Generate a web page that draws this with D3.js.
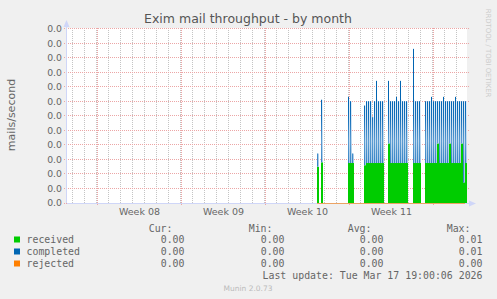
<!DOCTYPE html>
<html>
<head>
  <meta charset='utf-8'>
  <title>Exim mail throughput - by month</title>
  <script src="https://cdn.jsdelivr.net/npm/d3@7"></script>
  <style>
    html, body {
      margin: 0;
      padding: 0;
      background: #f0f0f0;
    }
    svg {
      display: block;
      font-family: "DejaVu Sans", sans-serif;
    }
    .mono {
      font-family: "DejaVu Sans Mono", monospace;
    }
  </style>
</head>
<body>
<svg id="chart" width="497" height="299"></svg>
<script>
// hours since the left edge of the month window, one sample every 4 hours
const hours = [
  500, 508,
  562, 566, 570,
  594, 598, 602, 606, 610, 614, 618, 622, 626, 630,
  642, 646, 650, 654, 658, 662, 666, 670, 674, 678,
  692, 696, 700, 704,
  716, 720, 724, 728, 732, 736, 740, 744, 748, 752, 756,
  760, 764, 768, 772, 776, 780, 784, 788, 792, 796
];
const received = [
  0.0025, 0.0028,
  0.00275, 0.00275, 0.00275,
  0.0026, 0.00275, 0.00275, 0.00275, 0.00275, 0.00275, 0.00275, 0.00275, 0.00275, 0.00275,
  0.0041, 0.00275, 0.00275, 0.00275, 0.00275, 0.00275, 0.00275, 0.00275, 0.00275, 0.00275,
  0.00275, 0.00275, 0.00275, 0.00275,
  0.00275, 0.00275, 0.00275, 0.00275, 0.00275, 0.00275, 0.0041, 0.00275, 0.00275, 0.00275, 0.00275,
  0.00275, 0.0041, 0.00275, 0.00275, 0.00275, 0.00275, 0.00275, 0.0041, 0.00275, 0.00275
];
const completed = [
  0.0034, 0.0071,
  0.0073, 0.0070, 0.0034,
  0.0067, 0.0070, 0.0070, 0.0070, 0.0059, 0.0070, 0.0084, 0.0070, 0.0070, 0.0070,
  0.0084, 0.0070, 0.0070, 0.0070, 0.0073, 0.0070, 0.0084, 0.0070, 0.0070, 0.0070,
  0.0106, 0.0070, 0.0070, 0.0070,
  0.0070, 0.0070, 0.0070, 0.0073, 0.0070, 0.0070, 0.0070, 0.0070, 0.0070, 0.0073, 0.0070,
  0.0070, 0.0070, 0.0070, 0.0070, 0.0073, 0.0070, 0.0070, 0.0070, 0.0070, 0.0070
];
const rejected = [
  0, 0,
  0, 0, 0,
  0, 0, 0, 0, 0, 0, 0, 0, 0, 0,
  0, 0, 0, 0, 0, 0, 0, 0, 0, 0,
  0, 0, 0, 0,
  0, 0, 0, 0, 0, 0, 0, 0, 0, 0, 0,
  0, 0, 0, 0, 0, 0, 0, 0, 0, 0
];
// one sample where completed drops below received
const dipHours = [792];
const dipValues = [0.0014];

const weekGrid = [60, 228, 396, 564, 732];
const weekLabelHours = [144, 312, 480, 648];
const weekLabels = ["Week 08", "Week 09", "Week 10", "Week 11"];

const legendNames = ["received", "completed", "rejected"];
const legendColors = ["#00cc00", "#0066b3", "#ff8000"];
const legendCur = [0, 0, 0];
const legendMin = [0, 0, 0];
const legendAvg = [0, 0, 0];
const legendMax = [0.01, 0.01, 0];

const svg = d3.select("#chart");

const x = d3.scaleLinear().domain([0, 800]).range([67, 467]);
const y = d3.scaleLinear().domain([0, 0.012]).range([203, 28.5]);
const yTicks = d3.range(0, 0.01205, 0.001);
const crisp = v => Math.round(v) + 0.5;
const lowOf = (d, i) => {
  const k = dipHours.indexOf(d);
  return k >= 0 ? dipValues[k] : received[i];
};

// canvas
svg.append("rect")
  .attr("x", 67).attr("y", 28)
  .attr("width", 400).attr("height", 175)
  .attr("fill", "#fff");

const defs = svg.append("defs");

// fade for the completed stripes, fixed to the plot so every stripe shares it
const grad = defs.append("linearGradient")
  .attr("id", "blueFade")
  .attr("gradientUnits", "userSpaceOnUse")
  .attr("x1", 0).attr("x2", 0)
  .attr("y1", y(0.0071)).attr("y2", y(0.0027));
grad.append("stop").attr("offset", "0%").attr("stop-color", "#0064b2");
grad.append("stop").attr("offset", "30%").attr("stop-color", "#1570ba");
grad.append("stop").attr("offset", "65%").attr("stop-color", "#5b9cd2");
grad.append("stop").attr("offset", "100%").attr("stop-color", "#3584c5");

// pale haze between the stripes
const haze = defs.append("linearGradient")
  .attr("id", "blueHaze")
  .attr("gradientUnits", "userSpaceOnUse")
  .attr("x1", 0).attr("x2", 0)
  .attr("y1", y(0.0071)).attr("y2", y(0.0027));
haze.append("stop").attr("offset", "0%").attr("stop-color", "#e3eef8");
haze.append("stop").attr("offset", "60%").attr("stop-color", "#c4dbef");
haze.append("stop").attr("offset", "100%").attr("stop-color", "#a6c8e6");

// minor grid (days)
svg.append("g")
  .selectAll("line")
  .data(d3.range(10, 800, 24))
  .join("line")
    .attr("x1", d => crisp(x(d))).attr("x2", d => crisp(x(d)))
    .attr("y1", 28).attr("y2", 203)
    .attr("stroke", "#c4c4c4")
    .attr("stroke-dasharray", "1,1");

// major grid (weeks)
svg.append("g")
  .selectAll("line")
  .data(weekGrid)
  .join("line")
    .attr("x1", d => crisp(x(d))).attr("x2", d => crisp(x(d)))
    .attr("y1", 28).attr("y2", 206)
    .attr("stroke", "#eca6a6")
    .attr("stroke-dasharray", "1,1");

// horizontal grid
svg.append("g")
  .selectAll("line")
  .data(yTicks)
  .join("line")
    .attr("x1", 64).attr("x2", 470)
    .attr("y1", d => crisp(y(d) - 0.5)).attr("y2", d => crisp(y(d) - 0.5))
    .attr("stroke", "#eca6a6")
    .attr("stroke-dasharray", "1,1");

// received area, one column per sample
svg.append("g")
  .selectAll("rect")
  .data(hours)
  .join("rect")
    .attr("x", d => x(d))
    .attr("width", d => x(d + 4) - x(d))
    .attr("y", (d, i) => y(received[i]))
    .attr("height", (d, i) => y(0) - y(received[i]))
    .attr("fill", "#00cc00");

// haze behind the completed stripes
svg.append("g")
  .selectAll("rect")
  .data(hours)
  .join("rect")
    .attr("x", d => x(d))
    .attr("width", d => x(d + 4) - x(d))
    .attr("y", (d, i) => y(Math.min(completed[i], 0.0071)))
    .attr("height", (d, i) => Math.max(0, y(lowOf(d, i)) - y(Math.min(completed[i], 0.0071))))
    .attr("fill", "url(#blueHaze)");

// completed stripes
svg.append("g")
  .selectAll("rect")
  .data(hours)
  .join("rect")
    .attr("x", d => x(d))
    .attr("width", 1)
    .attr("y", (d, i) => y(completed[i]))
    .attr("height", (d, i) => y(lowOf(d, i)) - y(completed[i]))
    .attr("fill", "url(#blueFade)");

// axes lines and arrows
svg.append("line")
  .attr("x1", 66.5).attr("x2", 66.5).attr("y1", 203).attr("y2", 24)
  .attr("stroke", "#cfd6f8");
svg.append("path")
  .attr("d", "M63.5,27 L66.5,20 L69.5,27 Z")
  .attr("fill", "#cfd6f8");
svg.append("line")
  .attr("x1", 67).attr("x2", 472).attr("y1", 203.5).attr("y2", 203.5)
  .attr("stroke", "#cfd6f8");
svg.append("path")
  .attr("d", "M469,200.5 L476,203.5 L469,206.5 Z")
  .attr("fill", "#cfd6f8");

// rejected line at zero
svg.append("path")
  .datum(hours)
  .attr("fill", "none")
  .attr("stroke", "#ff8000")
  .attr("stroke-opacity", 0.6)
  .attr("d", d3.line()
    .x(d => x(d))
    .y((d, i) => crisp(y(rejected[i]))));

// y axis labels
const yAxis = svg.append("g")
  .attr("transform", "translate(62,0)")
  .call(d3.axisLeft(y).tickValues(yTicks).tickFormat(d3.format(".1f")).tickSize(0));
yAxis.select(".domain").remove();
yAxis.selectAll("text")
  .attr("x", 0)
  .attr("fill", "#666")
  .style("font-family", "'DejaVu Sans', sans-serif")
  .style("font-size", "9.3px");

// x axis labels
const xAxis = svg.append("g")
  .attr("transform", "translate(0,208)")
  .call(d3.axisBottom(x).tickValues(weekLabelHours)
    .tickFormat((d, i) => weekLabels[i]).tickSize(0));
xAxis.select(".domain").remove();
xAxis.selectAll("text")
  .attr("y", 0)
  .attr("fill", "#666")
  .style("font-family", "'DejaVu Sans', sans-serif")
  .style("font-size", "9.5px");

// title and unit
svg.append("text")
  .attr("x", 248).attr("y", 23)
  .attr("text-anchor", "middle")
  .attr("fill", "#555")
  .style("font-size", "12.5px")
  .text("Exim mail throughput - by month");

svg.append("text")
  .attr("transform", "translate(15,115) rotate(-90)")
  .attr("text-anchor", "middle")
  .attr("fill", "#666")
  .style("font-size", "11px")
  .text("mails/second");

svg.append("text")
  .attr("transform", "translate(485.5,53) rotate(90)")
  .attr("text-anchor", "middle")
  .attr("fill", "#ccc")
  .style("font-size", "6.9px")
  .text("RRDTOOL / TOBI OETIKER");

// legend
const legend = svg.append("g").attr("class", "mono")
  .style("font-size", "9.9px").attr("fill", "#666");
const cols = [["Cur:", 172.5, 184.5, legendCur], ["Min:", 272.5, 284.5, legendMin],
  ["Avg:", 371.5, 383.5, legendAvg], ["Max:", 470.5, 482.5, legendMax]];
const fmt = d3.format(".2f");

cols.forEach(c => {
  legend.append("text")
    .attr("x", c[1]).attr("y", 232)
    .attr("text-anchor", "end")
    .text(c[0]);
});

legendNames.forEach((name, i) => {
  const yy = 243 + i * 12;
  legend.append("rect")
    .attr("x", 14).attr("y", yy - 6.5)
    .attr("width", 6).attr("height", 6)
    .attr("fill", legendColors[i]);
  legend.append("text")
    .attr("x", 26.5).attr("y", yy)
    .text(name);
  cols.forEach(c => {
    legend.append("text")
      .attr("x", c[2]).attr("y", yy)
      .attr("text-anchor", "end")
      .text(fmt(c[3][i]));
  });
});

legend.append("text")
  .attr("x", 482.5).attr("y", 279)
  .attr("text-anchor", "end")
  .text("Last update: Tue Mar 17 19:00:06 2026");

svg.append("text")
  .attr("x", 248).attr("y", 290.5)
  .attr("text-anchor", "middle")
  .attr("fill", "#bbb")
  .style("font-size", "7.5px")
  .text("Munin 2.0.73");
</script>
</body>
</html>
